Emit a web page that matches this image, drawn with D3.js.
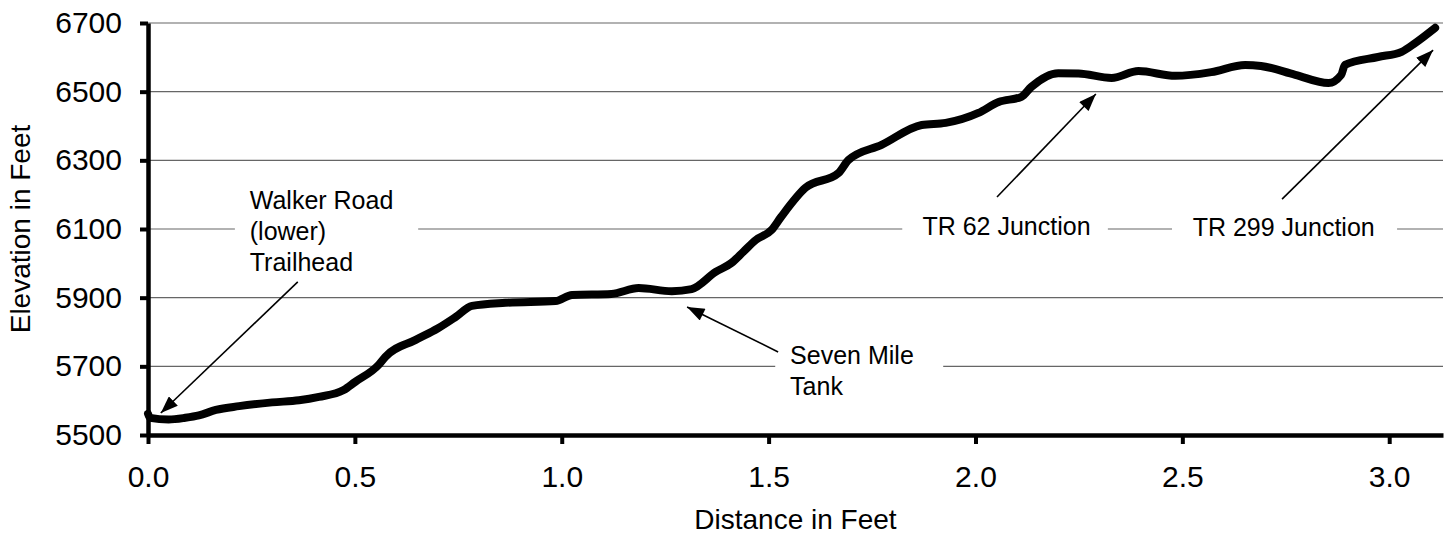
<!DOCTYPE html>
<html>
<head>
<meta charset="utf-8">
<script src="https://cdn.jsdelivr.net/npm/d3@7"></script>
<style>
  body { margin: 0; background: #fff; }
  svg { display: block; font-family: Arial, "Liberation Sans", sans-serif; }
</style>
</head>
<body>
<svg id="profile-chart"></svg>
<script>
// Trail profile data (distance, elevation)
const distance = [0.000, 0.005, 0.050, 0.090, 0.123, 0.164, 0.220, 0.300, 0.365, 0.413,
  0.473, 0.500, 0.558, 0.574, 0.647, 0.700, 0.744, 0.783, 0.864, 0.985,
  1.025, 1.120, 1.186, 1.266, 1.314, 1.372, 1.410, 1.440, 1.469, 1.507,
  1.530, 1.589, 1.669, 1.693, 1.773, 1.870, 1.928, 2.007, 2.056, 2.111,
  2.135, 2.200, 2.249, 2.329, 2.394, 2.483, 2.570, 2.652, 2.690, 2.773,
  2.853, 2.884, 2.893, 2.973, 3.030, 3.063, 3.111];
const elevation = [5562, 5550, 5545, 5550, 5557, 5573, 5584, 5595, 5601, 5611,
  5631, 5654, 5705, 5728, 5777, 5810, 5844, 5876, 5885, 5890,
  5908, 5911, 5928, 5919, 5925, 5975, 6001, 6035, 6068, 6097,
  6135, 6220, 6263, 6301, 6345, 6403, 6409, 6438, 6470, 6485,
  6514, 6554, 6553, 6540, 6560, 6546, 6557, 6578, 6575, 6549,
  6525, 6549, 6578, 6601, 6616, 6642, 6686];

// Axis ticks
const xTicks = [0, 0.5, 1.0, 1.5, 2.0, 2.5, 3.0];
const yTicks = [5500, 5700, 5900, 6100, 6300, 6500, 6700];

// Callouts (in data units)
const labelLines = [["Walker Road", "(lower)", "Trailhead"], ["Seven Mile", "Tank"], ["TR 62 Junction"], ["TR 299 Junction"]];
const labelX = [0.246, 1.552, 2.075, 2.745];
const labelY = [6158, 5707, 6083, 6080];
const labelAnchor = ["start", "start", "middle", "middle"];
const boxX = [[0.21, 0.653], [1.516, 1.922], [1.823, 2.320], [2.475, 3.019]];
const boxY = [[5950, 6270], [5595, 5800], [6040, 6140], [6040, 6140]];
const arrowFrom = [[0.362, 5946], [1.523, 5742], [2.052, 6193], [2.741, 6187]];
const arrowTo = [[0.031, 5564], [1.303, 5873], [2.291, 6493], [3.106, 6621]];

document.addEventListener('DOMContentLoaded', function () {
  drawProfile();
});

function drawProfile() {
  const W = 1455, H = 547;
  const margin = { top: 23, right: 12, bottom: 112, left: 148 };
  const font = "Arial, 'Liberation Sans', sans-serif";

  const svg = d3.select("#profile-chart")
    .attr("width", W)
    .attr("height", H);

  const xScale = d3.scaleLinear()
    .domain([0, 3.13])
    .range([margin.left, W - margin.right]);

  const yScale = d3.scaleLinear()
    .domain([5500, 6700])
    .range([H - margin.bottom, margin.top]);

  const points = distance.map((d, i) => ({ d: d, e: elevation[i] }));

  // gridlines
  svg.append("g")
    .selectAll("line")
    .data(yTicks.slice(1))
    .enter()
    .append("line")
    .attr("x1", xScale.range()[0])
    .attr("x2", xScale.range()[1])
    .attr("y1", d => yScale(d))
    .attr("y2", d => yScale(d))
    .attr("stroke", "#666")
    .attr("stroke-width", 1.2);

  // white boxes behind callout text
  svg.append("g")
    .selectAll("rect")
    .data(boxX)
    .enter()
    .append("rect")
    .attr("x", d => xScale(d[0]))
    .attr("width", d => xScale(d[1]) - xScale(d[0]))
    .attr("y", (d, i) => yScale(boxY[i][1]))
    .attr("height", (d, i) => yScale(boxY[i][0]) - yScale(boxY[i][1]))
    .attr("fill", "#fff");

  // profile line
  const line = d3.line()
    .x(p => xScale(p.d))
    .y(p => yScale(p.e))
    .curve(d3.curveMonotoneX);

  svg.append("path")
    .datum(points)
    .attr("d", line)
    .attr("fill", "none")
    .attr("stroke", "#000")
    .attr("stroke-width", 8)
    .attr("stroke-linejoin", "round")
    .attr("stroke-linecap", "round");

  // x axis
  const xAxis = svg.append("g")
    .attr("transform", `translate(0,${yScale(5500)})`)
    .call(d3.axisBottom(xScale).tickValues(xTicks).tickSize(9).tickSizeOuter(0).tickPadding(22).tickFormat(d3.format(".1f")));
  xAxis.select(".domain").style("stroke-width", "4.5px").style("stroke", "#000");
  xAxis.selectAll(".tick line").style("stroke-width", "4px").style("stroke", "#000");
  xAxis.selectAll("text").style("font-size", "30px").style("fill", "#000").style("font-family", font);

  // y axis
  const yAxis = svg.append("g")
    .attr("transform", `translate(${xScale(0)},0)`)
    .call(d3.axisLeft(yScale).tickValues(yTicks).tickSize(8).tickSizeOuter(0).tickPadding(18).tickFormat(d3.format("d")));
  yAxis.select(".domain").style("stroke-width", "4.5px").style("stroke", "#000");
  yAxis.selectAll(".tick line").style("stroke-width", "4px").style("stroke", "#000");
  yAxis.selectAll("text").style("font-size", "30px").style("fill", "#000").style("font-family", font);

  // axis titles
  svg.append("text")
    .attr("x", (xScale.range()[0] + xScale.range()[1]) / 2)
    .attr("y", 529)
    .attr("text-anchor", "middle")
    .attr("font-size", 28)
    .text("Distance in Feet");

  svg.append("text")
    .attr("transform", "rotate(-90)")
    .attr("x", -229)
    .attr("y", 30)
    .attr("text-anchor", "middle")
    .attr("font-size", 28)
    .text("Elevation in Feet");

  // arrowhead
  svg.append("defs").append("marker")
    .attr("id", "arrowhead")
    .attr("viewBox", "0 0 16 12")
    .attr("refX", 16)
    .attr("refY", 6)
    .attr("markerWidth", 18)
    .attr("markerHeight", 13)
    .attr("markerUnits", "userSpaceOnUse")
    .attr("orient", "auto")
    .append("path")
    .attr("d", "M0,0 L16,6 L0,12 Z")
    .attr("fill", "#000");

  // callout arrows
  svg.append("g")
    .selectAll("line")
    .data(arrowFrom)
    .enter()
    .append("line")
    .attr("x1", d => xScale(d[0]))
    .attr("y1", d => yScale(d[1]))
    .attr("x2", (d, i) => xScale(arrowTo[i][0]))
    .attr("y2", (d, i) => yScale(arrowTo[i][1]))
    .attr("stroke", "#000")
    .attr("stroke-width", 1.6)
    .attr("marker-end", "url(#arrowhead)");

  // callout text
  labelLines.forEach((lines, i) => {
    const t = svg.append("text")
      .attr("x", xScale(labelX[i]))
      .attr("y", yScale(labelY[i]))
      .attr("text-anchor", labelAnchor[i])
      .attr("font-size", 25);
    lines.forEach((s, j) => {
      t.append("tspan")
        .attr("x", xScale(labelX[i]))
        .attr("dy", j === 0 ? 0 : 31)
        .text(s);
    });
  });
}
</script>
</body>
</html>
